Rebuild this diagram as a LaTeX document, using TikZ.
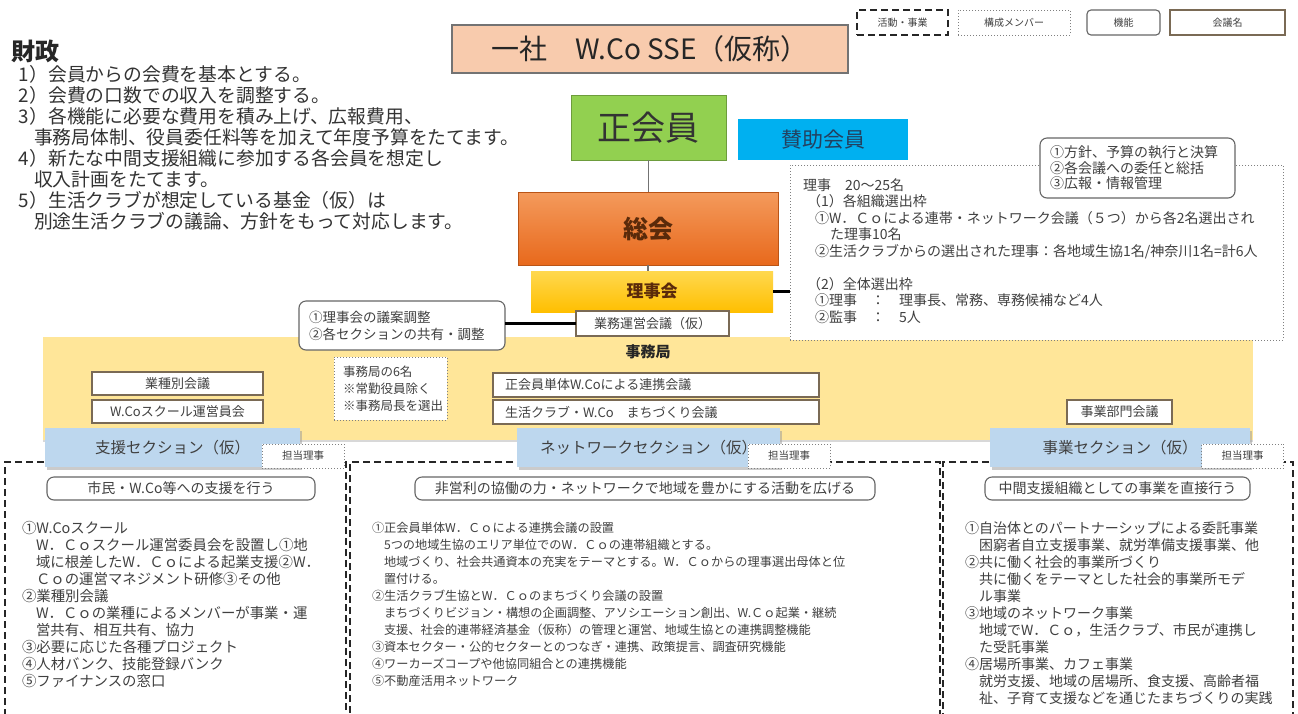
\documentclass[tikz,border=0pt]{standalone}
\usepackage{fontspec}
\setmainfont{Noto Sans CJK JP}
\usetikzlibrary{shadows}
\definecolor{peach}{HTML}{F8CBAD}
\definecolor{memgreen}{HTML}{92D050}
\definecolor{supblue}{HTML}{00B0F0}
\definecolor{soukaiA}{HTML}{F49A5C}
\definecolor{soukaiB}{HTML}{E8691C}
\definecolor{rijiA}{HTML}{FFD84F}
\definecolor{rijiB}{HTML}{FFBF00}
\definecolor{officeY}{HTML}{FFE699}
\definecolor{secblue}{HTML}{BDD7EE}
\definecolor{meetborder}{HTML}{7A6A55}
\definecolor{txt}{HTML}{404040}
\definecolor{txtblue}{HTML}{23405F}
\definecolor{darkbrown}{HTML}{5A2A0A}
\begin{document}
\begin{tikzpicture}[x=1pt,y=-1pt,
  every node/.style={inner sep=0pt, outer sep=0pt, text=txt},
  meeting/.style={draw=meetborder, line width=1.3pt, fill=white, font=\fontsize{13}{15}\selectfont},
  funcbox/.style={draw=black!60, line width=1.1pt, rounded corners=7pt, fill=white, font=\fontsize{12}{15}\selectfont},
  memberbox/.style={draw=black!50, dotted, line width=1pt, fill=white},
  actbox/.style={draw=black!85, dash pattern=on 7pt off 4pt, line width=1.5pt},
  secbox/.style={fill=secblue, draw=none, drop shadow={shadow xshift=1.5pt, shadow yshift=-2.5pt, fill=black!40}, font=\fontsize{15.5}{18}\selectfont},
  bodytext/.style={align=left, anchor=north west},
  conn/.style={draw=black!55, line width=1.2pt},
  thickconn/.style={draw=black, line width=3pt},
]
\useasboundingbox (0,0) rectangle (1298,713);
\fill[white] (0,0) rectangle (1298,713);

% secretariat area (background)
\node[fill=officeY, minimum width=1210pt, minimum height=103pt, drop shadow={shadow xshift=0pt, shadow yshift=-2pt, fill=black!30}] (office) at (648,388.5) {};

% title
\node[draw=black!55, line width=1.3pt, fill=peach, minimum width=396pt, minimum height=48pt, font=\fontsize{28}{32}\selectfont, text=black!85] (title) at (650,49) {一社　W.Co SSE（仮称）};

% legend
\node[actbox, fill=white, minimum width=91pt, minimum height=25pt, font=\fontsize{10}{12}\selectfont] (lgact) at (902.5,22.5) {活動・事業};
\node[memberbox, minimum width=112pt, minimum height=25pt, font=\fontsize{10}{12}\selectfont] (lgmem) at (1014,22.5) {構成メンバー};
\node[funcbox, rounded corners=4pt, minimum width=73pt, minimum height=25pt, font=\fontsize{10}{12}\selectfont] (lgfunc) at (1123.5,22.5) {機能};
\node[meeting, minimum width=115pt, minimum height=25pt, font=\fontsize{10}{12}\selectfont] (lgmeet) at (1227.5,22.5) {会議名};

% finance
\node[anchor=west, font=\fontsize{24}{28}\selectfont\bfseries, text=black!85] (fintitle) at (12,51) {財政};
\node[bodytext, font=\fontsize{18.8}{21}\selectfont, text=black!80] (fintext) at (19,65.5) {1）会員からの会費を基本とする。\\2）会費の口数での収入を調整する。\\3）各機能に必要な費用を積み上げ、広報費用、\\\hspace*{15pt}事務局体制、役員委任料等を加えて年度予算をたてます。\\4）新たな中間支援組織に参加する各会員を想定し\\\hspace*{15pt}収入計画をたてます。\\5）生活クラブが想定している基金（仮）は\\\hspace*{15pt}別途生活クラブの議論、方針をもって対応します。};

% members, general assembly, board
\node[draw=memgreen!75!black, line width=1pt, fill=memgreen, minimum width=155pt, minimum height=65pt, font=\fontsize{34}{38}\selectfont, text=black!80] (seikai) at (648.5,127.5) {正会員};
\node[fill=supblue, minimum width=170pt, minimum height=41pt, font=\fontsize{21}{24}\selectfont, text=txtblue] (sanjo) at (823,139.5) {賛助会員};
\node[draw=soukaiB!80!black, line width=0.6pt, top color=soukaiA, bottom color=soukaiB, minimum width=260pt, minimum height=73pt, font=\fontsize{25}{28}\selectfont\bfseries, text=darkbrown] (soukai) at (648,228.5) {総会};
\node[top color=rijiA, bottom color=rijiB, minimum width=242pt, minimum height=41pt, font=\fontsize{17}{20}\selectfont\bfseries, text=darkbrown] (rijikai) at (652,291.5) {理事会};

% board composition
\node[memberbox, minimum width=493pt, minimum height=175pt] (rijibox) at (1036.5,252.5) {};
\node[bodytext, font=\fontsize{14}{16.5}\selectfont] (rijitext) at (803,178.5) {理事　20～25名\\\hspace*{4pt}（1）各組織選出枠\\\hspace*{12pt}①W．Ｃｏによる連帯・ネットワーク会議（５つ）から各2名選出され\\\hspace*{27pt}た理事10名\\\hspace*{12pt}②生活クラブからの選出された理事：各地域生協1名/神奈川1名=計6人\\\mbox{}\\\hspace*{4pt}（2）全体選出枠\\\hspace*{12pt}①理事　：　理事長、常務、専務候補など4人\\\hspace*{12pt}②監事　：　5人};

% functions
\node[funcbox, minimum width=195pt, minimum height=60pt, align=left, text width=175pt, font=\fontsize{14}{15.5}\selectfont] (func1) at (1137.5,168) {①方針、予算の執行と決算\\②各会議への委任と総括\\③広報・情報管理};
\node[funcbox, minimum width=206pt, minimum height=49pt, align=left, text width=186pt, font=\fontsize{13.5}{17}\selectfont] (func2) at (402,325.5) {①理事会の議案調整\\②各セクションの共有・調整};
\node[meeting, minimum width=153pt, minimum height=25pt] (gyomu) at (652.5,323.5) {業務運営会議（仮）};

% connectors
\draw[conn] (seikai.south) -- (seikai.south |- soukai.north);
\draw[conn] (soukai.south) -- (soukai.south |- rijikai.north);
\draw[thickconn] (rijikai.east) -- (rijikai.east -| rijibox.west);
\draw[thickconn] (func2.east |- gyomu.west) -- (gyomu.west);

% secretariat contents
\node[font=\fontsize{15}{18}\selectfont\bfseries, text=black!85] (officelbl) at (648,352) {事務局};
\node[meeting, minimum width=171pt, minimum height=23pt] (gyoshu) at (177.5,383.5) {業種別会議};
\node[meeting, minimum width=171pt, minimum height=23pt] (school) at (177.5,411.5) {W.Coスクール運営員会};
\node[memberbox, minimum width=113pt, minimum height=63pt, align=left, text width=95pt, font=\fontsize{12.5}{17}\selectfont] (staff) at (390.5,388.5) {事務局の6名\\※常勤役員除く\\※事務局長を選出};
\node[meeting, minimum width=326pt, minimum height=24pt, align=left, text width=302pt] (renkei) at (656,385) {正会員単体W.Coによる連携会議};
\node[meeting, minimum width=326pt, minimum height=24pt, align=left, text width=302pt] (machi) at (656,412) {生活クラブ・W.Co　まちづくり会議};
\node[meeting, minimum width=105pt, minimum height=24pt] (jigyobu) at (1119.5,412) {事業部門会議};

% activity boxes
\node[actbox, minimum width=341pt, minimum height=270pt] (actL) at (175.5,597) {};
\node[actbox, minimum width=590pt, minimum height=270pt] (actM) at (645,597) {};
\node[actbox, minimum width=350pt, minimum height=270pt] (actR) at (1118,597) {};

% sections
\node[secbox, minimum width=255pt, minimum height=39pt] (secL) at (172.5,447.5) {支援セクション（仮）};
\node[secbox, minimum width=263pt, minimum height=39pt] (secM) at (648.5,447.5) {ネットワークセクション（仮）};
\node[secbox, minimum width=260pt, minimum height=39pt] (secR) at (1120,447.5) {事業セクション（仮）};
\node[memberbox, minimum width=82pt, minimum height=24pt, font=\fontsize{10.5}{12}\selectfont] (tanL) at (303,456) {担当理事};
\node[memberbox, minimum width=82pt, minimum height=24pt, font=\fontsize{10.5}{12}\selectfont] (tanM) at (789,456) {担当理事};
\node[memberbox, minimum width=82pt, minimum height=24pt, font=\fontsize{10.5}{12}\selectfont] (tanR) at (1242.5,456) {担当理事};

% goals
\node[funcbox, minimum width=268pt, minimum height=23pt, font=\fontsize{14}{16}\selectfont] (goalL) at (181,488.5) {市民・W.Co等への支援を行う};
\node[funcbox, minimum width=460pt, minimum height=23pt, font=\fontsize{14}{16}\selectfont] (goalM) at (645,488.5) {非営利の協働の力・ネットワークで地域を豊かにする活動を広げる};
\node[funcbox, minimum width=265pt, minimum height=23pt, font=\fontsize{14}{16}\selectfont] (goalR) at (1117.5,488.5) {中間支援組織としての事業を直接行う};

% activity texts
\node[bodytext, font=\fontsize{14.4}{17}\selectfont] (bodyL) at (22,521) {①W.Coスクール\\\hspace*{14pt}W．Ｃｏスクール運営委員会を設置し①地\\\hspace*{14pt}域に根差したW．Ｃｏによる起業支援②W．\\\hspace*{14pt}Ｃｏの運営マネジメント研修③その他\\②業種別会議\\\hspace*{14pt}W．Ｃｏの業種によるメンバーが事業・運\\\hspace*{14pt}営共有、相互共有、協力\\③必要に応じた各種プロジェクト\\④人材バンク、技能登録バンク\\⑤ファイナンスの窓口};
\node[bodytext, font=\fontsize{12.2}{17}\selectfont] (bodyM) at (372,522) {①正会員単体W．Ｃｏによる連携会議の設置\\\hspace*{12pt}5つの地域生協のエリア単位でのW．Ｃｏの連帯組織とする。\\\hspace*{12pt}地域づくり、社会共通資本の充実をテーマとする。W．Ｃｏからの理事選出母体と位\\\hspace*{12pt}置付ける。\\②生活クラブ生協とW．Ｃｏのまちづくり会議の設置\\\hspace*{12pt}まちづくりビジョン・構想の企画調整、アソシエーション創出、W.Ｃｏ起業・継続\\\hspace*{12pt}支援、社会的連帯経済基金（仮称）の管理と運営、地域生協との連携調整機能\\③資本セクター・公的セクターとのつなぎ・連携、政策提言、調査研究機能\\④ワーカーズコープや他協同組合との連携機能\\⑤不動産活用ネットワーク};
\node[bodytext, font=\fontsize{14}{17}\selectfont] (bodyR) at (965,522) {①自治体とのパートナーシップによる委託事業\\\hspace*{14pt}困窮者自立支援事業、就労準備支援事業、他\\②共に働く社会的事業所づくり\\\hspace*{14pt}共に働くをテーマとした社会的事業所モデ\\\hspace*{14pt}ル事業\\③地域のネットワーク事業\\\hspace*{14pt}地域でW．Ｃｏ，生活クラブ、市民が連携し\\\hspace*{14pt}た受託事業\\④居場所事業、カフェ事業\\\hspace*{14pt}就労支援、地域の居場所、食支援、高齢者福\\\hspace*{14pt}祉、子育て支援などを通じたまちづくりの実践};
\end{tikzpicture}
\end{document}
